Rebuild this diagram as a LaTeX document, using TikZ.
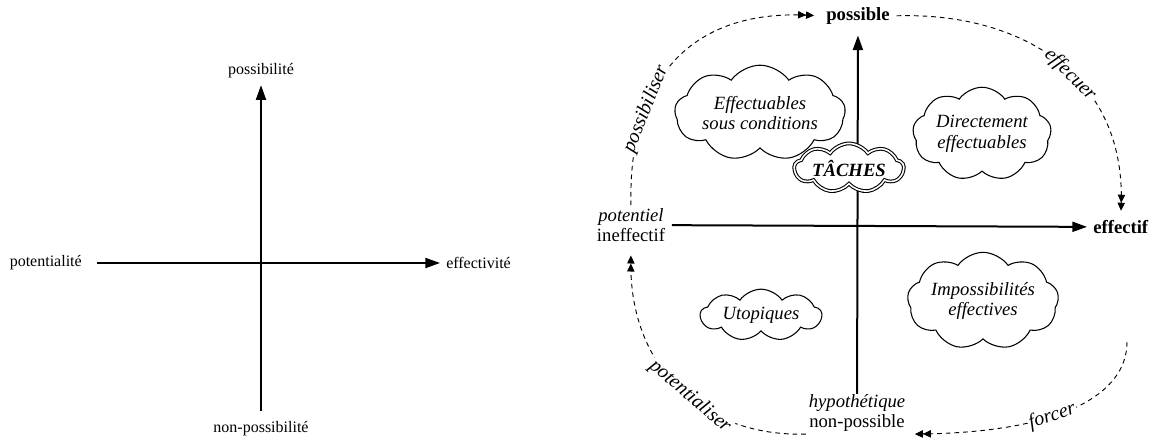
\documentclass[tikz,border=0pt]{standalone}
\usepackage{fontspec}
\setmainfont{Liberation Serif}
\usetikzlibrary{arrows.meta,shapes.symbols}

\begin{document}
\begin{tikzpicture}[x=0.75pt,y=-0.75pt,
    axis/.style={line width=1.5pt, -{Triangle[length=11pt,width=7.5pt]}},
    move/.style={dash pattern=on 3.5pt off 3pt, line width=0.7pt,
      -{Triangle[length=6pt,width=5.5pt]Triangle[length=6pt,width=5.5pt]}},
    lbl/.style={font=\fontsize{12}{14}\selectfont, inner sep=0pt},
    pole/.style={font=\fontsize{14}{15.5}\selectfont, align=center, inner sep=0pt},
    verb/.style={font=\fontsize{15}{17}\selectfont\itshape, fill=white, sloped, inner sep=1pt},
    bubble/.style={cloud, cloud puffs=9, cloud puff arc=110, cloud ignores aspect,
      draw, fill=white, line width=0.8pt, align=center, inner xsep=0pt,
      font=\fontsize{14}{15.5}\selectfont\itshape}]
    \useasboundingbox (0,0) rectangle (1156,439);

    % plan simple
    \node[lbl] (pty) at (261,71) {possibilité};
    \node[lbl] (npty) at (261,429) {non-possibilité};
    \node[lbl, anchor=east] (ptl) at (82,263) {potentialité};
    \node[lbl, anchor=west] (efv) at (446,263) {effectivité};

    \draw[axis, shorten <=7.5pt, shorten >=5pt] (npty) -- (pty);
    \draw[axis, shorten <=11pt, shorten >=4.5pt] (ptl) -- (efv);

    % plan des taches
    \node[pole] (poss) at (858,16) {\bfseries possible};
    \node[pole, anchor=west] (eff) at (1093,227) {\bfseries effectif};
    \node[pole] (pot) at (631,225) {\itshape potentiel\\ineffectif};
    \node[pole] (hyp) at (857,413) {\itshape hypothétique\\non-possible};

    \draw[axis, shorten <=0pt, shorten >=8pt] (hyp) -- (poss);
    \draw[axis, shorten <=5pt, shorten >=4.5pt] (pot) -- (eff);

    \node[bubble, minimum width=128pt, inner ysep=6pt] (cond) at (760,113) {Effectuables\\sous conditions};
    \node[bubble, minimum width=104pt, inner ysep=6pt] (dir) at (982,134) {Directement\\effectuables};
    \node[bubble, minimum width=82pt, inner ysep=2.5pt, double, double distance=1.2pt,
      font=\fontsize{14}{15.5}\selectfont\bfseries\itshape] (taches) at (849,168) {TÂCHES};
    \node[bubble, minimum width=91pt, inner ysep=3pt] (utop) at (761,315) {Utopiques};
    \node[bubble, minimum width=104pt, inner ysep=6pt] (imp) at (983,301) {Impossibilités\\effectives};

    % passages
    \coordinate (frc) at (1127,342);
    \draw[move, shorten <=2pt, shorten >=9pt] (pot.north) .. controls (628,80) and (690,10) .. (poss.west)
      node[verb, pos=0.3] {possibiliser};
    \draw[move, shorten <=5pt, shorten >=7pt] (poss.east) .. controls (1020,12) and (1125,75) .. (eff.north)
      node[verb, pos=0.56] {effecuer};
    \draw[move] (frc) .. controls (1127,395) and (1060,432) .. ([xshift=7pt,yshift=-1.5pt]hyp.south east)
      node[verb, pos=0.6] {forcer};
    \draw[move, shorten >=10pt] ([xshift=-2pt,yshift=-1.5pt]hyp.south west) .. controls (705,437) and (630,370) .. (pot.south)
      node[verb, pos=0.45] {potentialiser};
\end{tikzpicture}
\end{document}
